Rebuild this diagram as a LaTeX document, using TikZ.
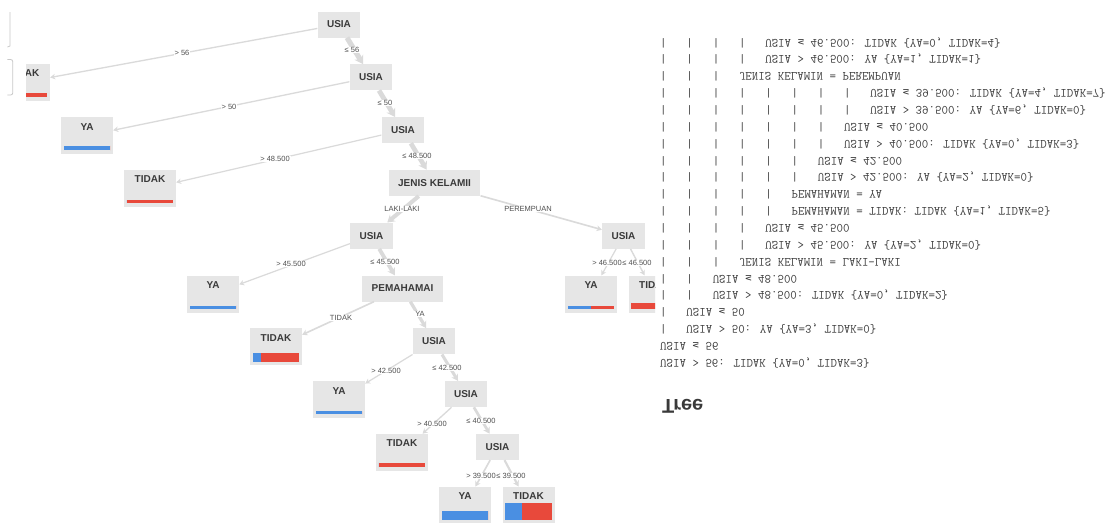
\documentclass[tikz,border=0pt]{standalone}
\usepackage{fontspec}
\setmainfont{Liberation Sans}
\setsansfont{Liberation Sans}
\newfontfamily\symfont{DejaVu Sans Mono}
\usetikzlibrary{arrows.meta,calc}

\definecolor{boxgray}{HTML}{E6E6E6}
\definecolor{edgegray}{HTML}{DADADA}
\definecolor{inkgray}{HTML}{3A3A3A}
\definecolor{labelgray}{HTML}{505050}
\definecolor{yablue}{HTML}{4A8FE2}
\definecolor{tidakred}{HTML}{E8493B}
\definecolor{uigray}{HTML}{C8C8C8}

% one indentation level of the text tree: a bar and three blanks (6.6pt per character)
\newcommand\ind{|\hspace*{19.8pt}}
% less-or-equal sign taken from DejaVu Sans Mono, kept to one character cell
\newcommand\leqm{\makebox[6.6pt]{\symfont\fontsize{10.5}{12}\selectfont ≤}}

% class distribution bar of a leaf: width split YA/TIDAK, height grows with the count
\newcommand\leafbar[3]{%
  \pgfmathsetmacro\bartot{#2+#3}%
  \pgfmathsetmacro\barh{1.5*\bartot}%
  \pgfmathsetmacro\barfr{#2/\bartot}%
  \coordinate (#1-bl) at ($(#1.south west)+(3,4)$);%
  \coordinate (#1-br) at ($(#1.south east)+(-3,4)$);%
  \coordinate (#1-bm) at ($(#1-bl)!\barfr!(#1-br)$);%
  \fill[yablue] (#1-bl) rectangle ($(#1-bm)+(0,\barh)$);%
  \fill[tidakred] (#1-bm) rectangle ($(#1-br)+(0,\barh)$);%
}

\tikzset{
  splitnode/.style={rectangle, fill=boxgray, font=\bfseries\fontsize{10}{12}\selectfont,
    text=inkgray, minimum height=26pt, minimum width=42pt, inner xsep=9.5pt, inner ysep=0pt},
  leafnode/.style={rectangle, fill=boxgray, font=\bfseries\fontsize{10}{12}\selectfont,
    text=inkgray, minimum width=52pt, text height=9pt, text depth=20pt,
    inner xsep=0pt, inner ysep=4pt},
  cond/.style={font=\fontsize{7.5}{9}\selectfont, text=labelgray, fill=white, inner sep=0.8pt},
  flow/.code={\pgfmathsetmacro\flowwidth{1+0.1*#1}\tikzset{line width=\flowwidth pt}},
  link/.style={draw=edgegray, -{Stealth[length=4pt 0.8, width=4pt 1.2]}},
  flipped/.style={anchor=west, inner sep=0pt, yscale=-1, transform shape, text=inkgray},
  txtrow/.style={flipped, font=\ttfamily\fontsize{12.57}{15}\selectfont,
    text height=8pt, text depth=2.5pt},
}

\begin{document}
\begin{tikzpicture}[x=1pt,y=1pt]
\useasboundingbox (0,0) rectangle (1115,-522);
\fill[white] (0,0) rectangle (1115,-522);

% panel edges on the far left
\draw[uigray, line width=0.8pt] (10,-12) -- (10,-46) -- (7.5,-47);
\draw[uigray, line width=0.8pt, rounded corners=2pt] (7.3,-59.5) -- (12.7,-59.5) -- (12.7,-95) -- (7.3,-95);

\begin{scope}
\clip (26,0) rectangle (655,-522);

% split nodes
\node[splitnode] (n1) at (339,-24.5) {USIA};
\node[splitnode] (n2) at (371,-77.3) {USIA};
\node[splitnode] (n3) at (403,-130.1) {USIA};
\node[splitnode] (n4) at (434.5,-182.9) {JENIS KELAMII};
\node[splitnode] (n5) at (371.5,-235.7) {USIA};
\node[splitnode] (n6) at (623.5,-235.7) {USIA};
\node[splitnode] (n7) at (402.5,-288.5) {PEMAHAMAI};
\node[splitnode] (n8) at (434,-341.3) {USIA};
\node[splitnode] (n9) at (466,-394.1) {USIA};
\node[splitnode] (n10) at (497.5,-446.9) {USIA};

% leaves
\node[leafnode] (l1) at (24,-82.3) {TIDAK};
\node[leafnode] (l2) at (87,-135.6) {YA};
\node[leafnode] (l3) at (150,-188.4) {TIDAK};
\node[leafnode] (l4) at (213,-294) {YA};
\node[leafnode] (l5) at (276,-346.8) {TIDAK};
\node[leafnode] (l6) at (339,-399.6) {YA};
\node[leafnode] (l7) at (402,-452.4) {TIDAK};
\node[leafnode] (l8) at (465,-505.2) {YA};
\node[leafnode] (l9) at (528.5,-505.2) {TIDAK};
\node[leafnode] (l10) at (591,-294) {YA};
\node[leafnode] (l11) at (654.5,-294) {TIDAK};

% branches, width by number of examples
\draw[link, flow=3]  (n1) -- (l1);
\draw[link, flow=41] (n1) -- (n2);
\draw[link, flow=3]  (n2) -- (l2);
\draw[link, flow=38] (n2) -- (n3);
\draw[link, flow=2]  (n3) -- (l3);
\draw[link, flow=36] (n3) -- (n4);
\draw[link, flow=30] (n4) -- (n5);
\draw[link, flow=6]  (n4) -- (n6);
\draw[link, flow=2]  (n5) -- (l4);
\draw[link, flow=28] (n5) -- (n7);
\draw[link, flow=6]  (n7) -- (l5);
\draw[link, flow=22] (n7) -- (n8);
\draw[link, flow=2]  (n8) -- (l6);
\draw[link, flow=20] (n8) -- (n9);
\draw[link, flow=3]  (n9) -- (l7);
\draw[link, flow=17] (n9) -- (n10);
\draw[link, flow=6]  (n10) -- (l8);
\draw[link, flow=11] (n10) -- (l9);
\draw[link, flow=2]  (n6) -- (l10);
\draw[link, flow=4]  (n6) -- (l11);

% branch conditions
\node[cond] (c1)  at (182,-53)  {> 56};
\node[cond] (c2)  at (352,-50)  {≤ 56};
\node[cond] (c3)  at (229,-107) {> 50};
\node[cond] (c4)  at (385,-103) {≤ 50};
\node[cond] (c5)  at (275,-159) {> 48.500};
\node[cond] (c6)  at (417,-156) {≤ 48.500};
\node[cond] (c7)  at (402,-209) {LAKI-LAKI};
\node[cond] (c8)  at (528,-209) {PEREMPUAN};
\node[cond] (c9)  at (291,-264) {> 45.500};
\node[cond] (c10) at (385,-262) {≤ 45.500};
\node[cond] (c11) at (341,-318) {TIDAK};
\node[cond] (c12) at (420,-314) {YA};
\node[cond] (c13) at (386,-371) {> 42.500};
\node[cond] (c14) at (447,-368) {≤ 42.500};
\node[cond] (c15) at (432,-424) {> 40.500};
\node[cond] (c16) at (481,-421) {≤ 40.500};
\node[cond] (c17) at (481,-476) {> 39.500};
\node[cond] (c18) at (511,-476) {≤ 39.500};
\node[cond] (c19) at (607,-263) {> 46.500};
\node[cond] (c20) at (637,-263) {≤ 46.500};

% class bars {leaf}{YA}{TIDAK}
\leafbar{l1}{0}{3}
\leafbar{l2}{3}{0}
\leafbar{l3}{0}{2}
\leafbar{l4}{2}{0}
\leafbar{l5}{1}{5}
\leafbar{l6}{2}{0}
\leafbar{l7}{0}{3}
\leafbar{l8}{6}{0}
\leafbar{l9}{4}{7}
\leafbar{l10}{1}{1}
\leafbar{l11}{0}{4}
\end{scope}

% text description of the tree, set upside down
\node[flipped, font=\bfseries\fontsize{20}{23}\selectfont, text height=14pt, text depth=0pt] (ttl) at (662,-406) {Tree};
\node[txtrow] (t1)  at (660,-362)    {USIA > 56: TIDAK \{YA=0, TIDAK=3\}};
\node[txtrow] (t2)  at (660,-345.15) {USIA \leqm{} 56};
\node[txtrow] (t3)  at (660,-328.3)  {\ind USIA > 50: YA \{YA=3, TIDAK=0\}};
\node[txtrow] (t4)  at (660,-311.45) {\ind USIA \leqm{} 50};
\node[txtrow] (t5)  at (660,-294.6)  {\ind\ind USIA > 48.500: TIDAK \{YA=0, TIDAK=2\}};
\node[txtrow] (t6)  at (660,-277.75) {\ind\ind USIA \leqm{} 48.500};
\node[txtrow] (t7)  at (660,-260.9)  {\ind\ind\ind JENIS KELAMIN = LAKI-LAKI};
\node[txtrow] (t8)  at (660,-244.05) {\ind\ind\ind\ind USIA > 45.500: YA \{YA=2, TIDAK=0\}};
\node[txtrow] (t9)  at (660,-227.2)  {\ind\ind\ind\ind USIA \leqm{} 45.500};
\node[txtrow] (t10) at (660,-210.35) {\ind\ind\ind\ind\ind PEMAHAMAN = TIDAK: TIDAK \{YA=1, TIDAK=5\}};
\node[txtrow] (t11) at (660,-193.5)  {\ind\ind\ind\ind\ind PEMAHAMAN = YA};
\node[txtrow] (t12) at (660,-176.65) {\ind\ind\ind\ind\ind\ind USIA > 42.500: YA \{YA=2, TIDAK=0\}};
\node[txtrow] (t13) at (660,-159.8)  {\ind\ind\ind\ind\ind\ind USIA \leqm{} 42.500};
\node[txtrow] (t14) at (660,-142.95) {\ind\ind\ind\ind\ind\ind\ind USIA > 40.500: TIDAK \{YA=0, TIDAK=3\}};
\node[txtrow] (t15) at (660,-126.1)  {\ind\ind\ind\ind\ind\ind\ind USIA \leqm{} 40.500};
\node[txtrow] (t16) at (660,-109.25) {\ind\ind\ind\ind\ind\ind\ind\ind USIA > 39.500: YA \{YA=6, TIDAK=0\}};
\node[txtrow] (t17) at (660,-92.4)   {\ind\ind\ind\ind\ind\ind\ind\ind USIA \leqm{} 39.500: TIDAK \{YA=4, TIDAK=7\}};
\node[txtrow] (t18) at (660,-75.55)  {\ind\ind\ind JENIS KELAMIN = PEREMPUAN};
\node[txtrow] (t19) at (660,-58.7)   {\ind\ind\ind\ind USIA > 46.500: YA \{YA=1, TIDAK=1\}};
\node[txtrow] (t20) at (660,-41.85)  {\ind\ind\ind\ind USIA \leqm{} 46.500: TIDAK \{YA=0, TIDAK=4\}};
\end{tikzpicture}
\end{document}
